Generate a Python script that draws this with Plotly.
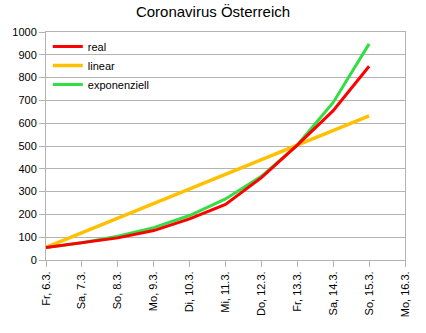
import plotly.graph_objects as go

dates = ["Fr, 6.3.", "Sa, 7.3.", "So, 8.3.", "Mo, 9.3.", "Di, 10.3.", "Mi, 11.3.",
         "Do, 12.3.", "Fr, 13.3.", "Sa, 14.3.", "So, 15.3.", "Mo, 16.3."]
real = [55, 77, 97, 129, 180, 244, 361, 504, 655, 850]
linear = [55, 119, 183, 247, 311, 376, 440, 504, 568, 632]
exponenziell = [55, 76, 104, 142, 195, 268, 367, 504, 691, 948]

fig = go.Figure()
fig.add_trace(go.Scatter(x=dates[:len(linear)], y=linear, name="linear", mode="lines",
                         legendrank=2, line=dict(color="#ffc000", width=3.5)))
fig.add_trace(go.Scatter(x=dates[:len(exponenziell)], y=exponenziell, name="exponenziell",
                         mode="lines", legendrank=3, line=dict(color="#33dd44", width=3)))
fig.add_trace(go.Scatter(x=dates[:len(real)], y=real, name="real", mode="lines",
                         legendrank=1, line=dict(color="#ff0000", width=3)))

fig.update_layout(
    width=426, height=333,
    margin=dict(l=41, r=21, t=32, b=73),
    paper_bgcolor="white", plot_bgcolor="white",
    font=dict(family="Liberation Sans, Arial, sans-serif", size=11, color="#000000"),
    title=dict(text="Coronavirus Österreich", x=0.5, xanchor="center",
               y=1 - 12 / 333, yanchor="middle", yref="container",
               font=dict(size=15, color="#000000")),
    showlegend=True,
    legend=dict(x=0.005, y=1.0, xanchor="left", yanchor="top", xref="paper", yref="paper",
                bgcolor="rgba(0,0,0,0)", font=dict(size=11), traceorder="normal",
                tracegroupgap=0),
    xaxis=dict(type="category", categoryorder="array", categoryarray=dates,
               range=[0, len(dates) - 1], tickangle=-90, showgrid=False,
               showline=True, linecolor="#b3b3b3", linewidth=1, mirror=True,
               ticks="outside", ticklen=6, tickcolor="#b3b3b3", zeroline=False,
               tickfont=dict(size=11)),
    yaxis=dict(range=[0, 1000], dtick=100, showgrid=True, gridcolor="#b3b3b3",
               gridwidth=1, showline=True, linecolor="#b3b3b3", linewidth=1, mirror=True,
               ticks="outside", ticklen=6, tickcolor="#b3b3b3", zeroline=False,
               tickfont=dict(size=11)),
)
fig.write_html("out.html")
